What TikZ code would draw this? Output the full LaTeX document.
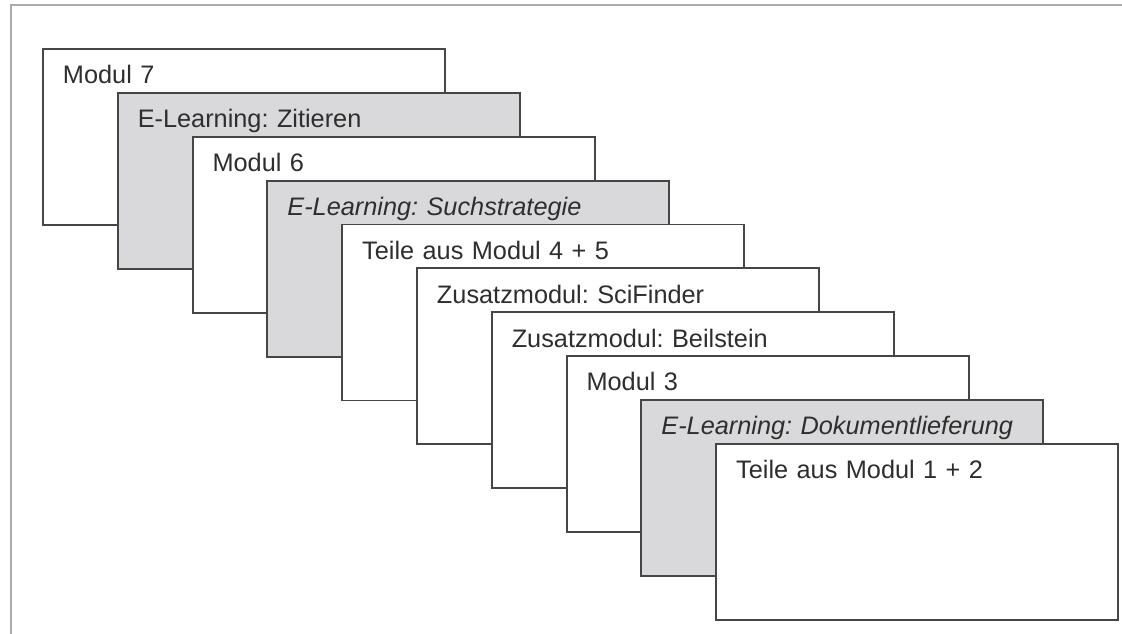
\documentclass[tikz,border=0pt]{standalone}
\usepackage{fontspec}
\setmainfont{Liberation Sans}
\usetikzlibrary{positioning}
\frenchspacing

\definecolor{boxline}{HTML}{464646}
\definecolor{boxgray}{HTML}{D9D9DB}
\definecolor{framegray}{HTML}{ABABAB}
\definecolor{txtgray}{HTML}{2E2E2E}

\tikzset{
  modbox/.style={draw=boxline, line width=1.4pt, fill=white, anchor=north west,
    inner xsep=0.5cm, inner ysep=0.4cm, text width=9.05cm,
    text height=0.47cm, text depth=3.13cm, align=left,
    font=\fontsize{18}{22}\selectfont, text=txtgray},
  elbox/.style={modbox, fill=boxgray},
  next/.style={shift={(1.87,-1.097)}}
}

\begin{document}
\begin{tikzpicture}
    \useasboundingbox (0,0) rectangle (28.05,15.85);

    % the frame round the picture
    \draw[framegray, line width=1.5pt] (0.275,0) -- (0.275,15.725) -- (28.05,15.725);

    % the stack of modules, from back to front
    \node[modbox] (m7) at (1.05,14.65) {Modul 7};
    \node[elbox] (zit) at ([next]m7.north west) {E-Learning: Zitieren};
    \node[modbox] (m6) at ([next]zit.north west) {Modul 6};
    \node[elbox] (such) at ([next]m6.north west) {\itshape E-Learning: Suchstrategie};
    \node[modbox] (m45) at ([next]such.north west) {Teile aus Modul 4 + 5};
    \node[modbox] (sci) at ([next]m45.north west) {Zusatzmodul: SciFinder};
    \node[modbox] (beil) at ([next]sci.north west) {Zusatzmodul: Beilstein};
    \node[modbox] (m3) at ([next]beil.north west) {Modul 3};
    \node[elbox] (dok) at ([next]m3.north west) {\itshape E-Learning: Dokumentlieferung};
    \node[modbox] (m12) at ([next]dok.north west) {Teile aus Modul 1 + 2};
\end{tikzpicture}
\end{document}
